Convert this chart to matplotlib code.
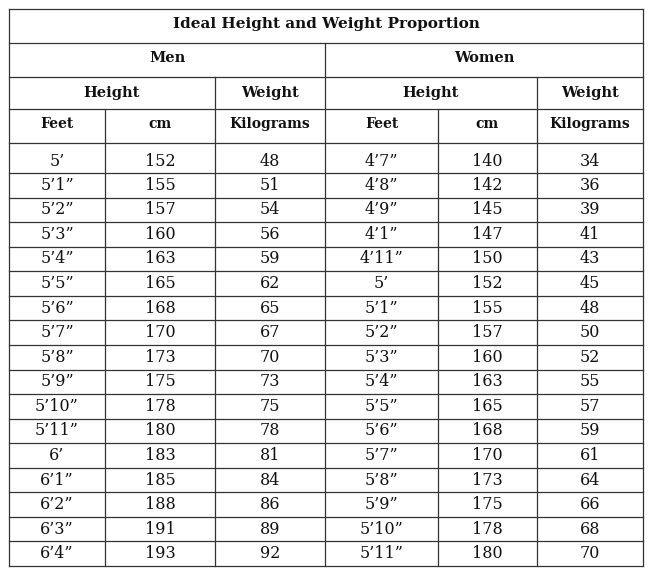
import matplotlib
matplotlib.use("Agg")
import matplotlib.pyplot as plt

title = "Ideal Height and Weight Proportion"
groups = ["Men", "Women"]
sub_headers = ["Height", "Weight", "Height", "Weight"]
col_headers = ["Feet", "cm", "Kilograms", "Feet", "cm", "Kilograms"]
men_feet = ["5’", "5’1”", "5’2”", "5’3”", "5’4”", "5’5”", "5’6”", "5’7”", "5’8”", "5’9”",
            "5’10”", "5’11”", "6’", "6’1”", "6’2”", "6’3”", "6’4”"]
men_cm = [152, 155, 157, 160, 163, 165, 168, 170, 173, 175, 178, 180, 183, 185, 188, 191, 193]
men_kg = [48, 51, 54, 56, 59, 62, 65, 67, 70, 73, 75, 78, 81, 84, 86, 89, 92]
women_feet = ["4’7”", "4’8”", "4’9”", "4’1”", "4’11”", "5’", "5’1”", "5’2”", "5’3”", "5’4”",
              "5’5”", "5’6”", "5’7”", "5’8”", "5’9”", "5’10”", "5’11”"]
women_cm = [140, 142, 145, 147, 150, 152, 155, 157, 160, 163, 165, 168, 170, 173, 175, 178, 180]
women_kg = [34, 36, 39, 41, 43, 45, 48, 50, 52, 55, 57, 59, 61, 64, 66, 68, 70]

fig = plt.figure(figsize=(6.54, 5.76), dpi=100)
ax = fig.add_axes([0, 0, 1, 1])
ax.set_xlim(0, 654); ax.set_ylim(576, 0); ax.axis("off")

cols = [9, 105, 215, 325, 438, 537, 643]
hdr = [9, 43, 77, 109, 143]
first_end = 173
step = (566 - first_end) / 16
rows = [hdr[-1], first_end] + [first_end + step * i for i in range(1, 17)]

lc = "#333333"; lw = 0.9
def hl(y, x0, x1): ax.plot([x0, x1], [y, y], color=lc, lw=lw)
def vl(x, y0, y1): ax.plot([x, x], [y0, y1], color=lc, lw=lw)

for y in hdr + rows[1:]:
    hl(y, cols[0], cols[-1])
vl(cols[0], hdr[0], rows[-1]); vl(cols[-1], hdr[0], rows[-1])
vl(cols[3], hdr[1], rows[-1])
for c in [cols[2], cols[5]]:
    vl(c, hdr[2], rows[-1])
for c in [cols[1], cols[4]]:
    vl(c, hdr[3], rows[-1])

serif = ["DejaVu Serif"]
def txt(x, y, s, bold=False, size=12):
    ax.text(x, y, s, ha="center", va="center", fontsize=size, family=serif,
            fontweight="bold" if bold else "normal", color="#111111")

txt((cols[0] + cols[-1]) / 2, (hdr[0] + hdr[1]) / 2 - 2, title, True, 11)
txt((cols[0] + cols[3]) / 2, (hdr[1] + hdr[2]) / 2 - 2, groups[0], True, 10.5)
txt((cols[3] + cols[6]) / 2, (hdr[1] + hdr[2]) / 2 - 2, groups[1], True, 10.5)
spans = [(0, 2), (2, 3), (3, 5), (5, 6)]
for (a, b), s in zip(spans, sub_headers):
    txt((cols[a] + cols[b]) / 2, (hdr[2] + hdr[3]) / 2, s, True, 10.5)
for i, s in enumerate(col_headers):
    txt((cols[i] + cols[i + 1]) / 2, (hdr[3] + hdr[4]) / 2 - 2, s, True, 10)

data = [men_feet, men_cm, men_kg, women_feet, women_cm, women_kg]
for r in range(len(men_cm)):
    yc = (rows[r] + rows[r + 1]) / 2 + (3 if r == 0 else 0)
    for i, col in enumerate(data):
        txt((cols[i] + cols[i + 1]) / 2, yc, str(col[r]), False, 11.5)

fig.savefig("out.png", dpi=100)
